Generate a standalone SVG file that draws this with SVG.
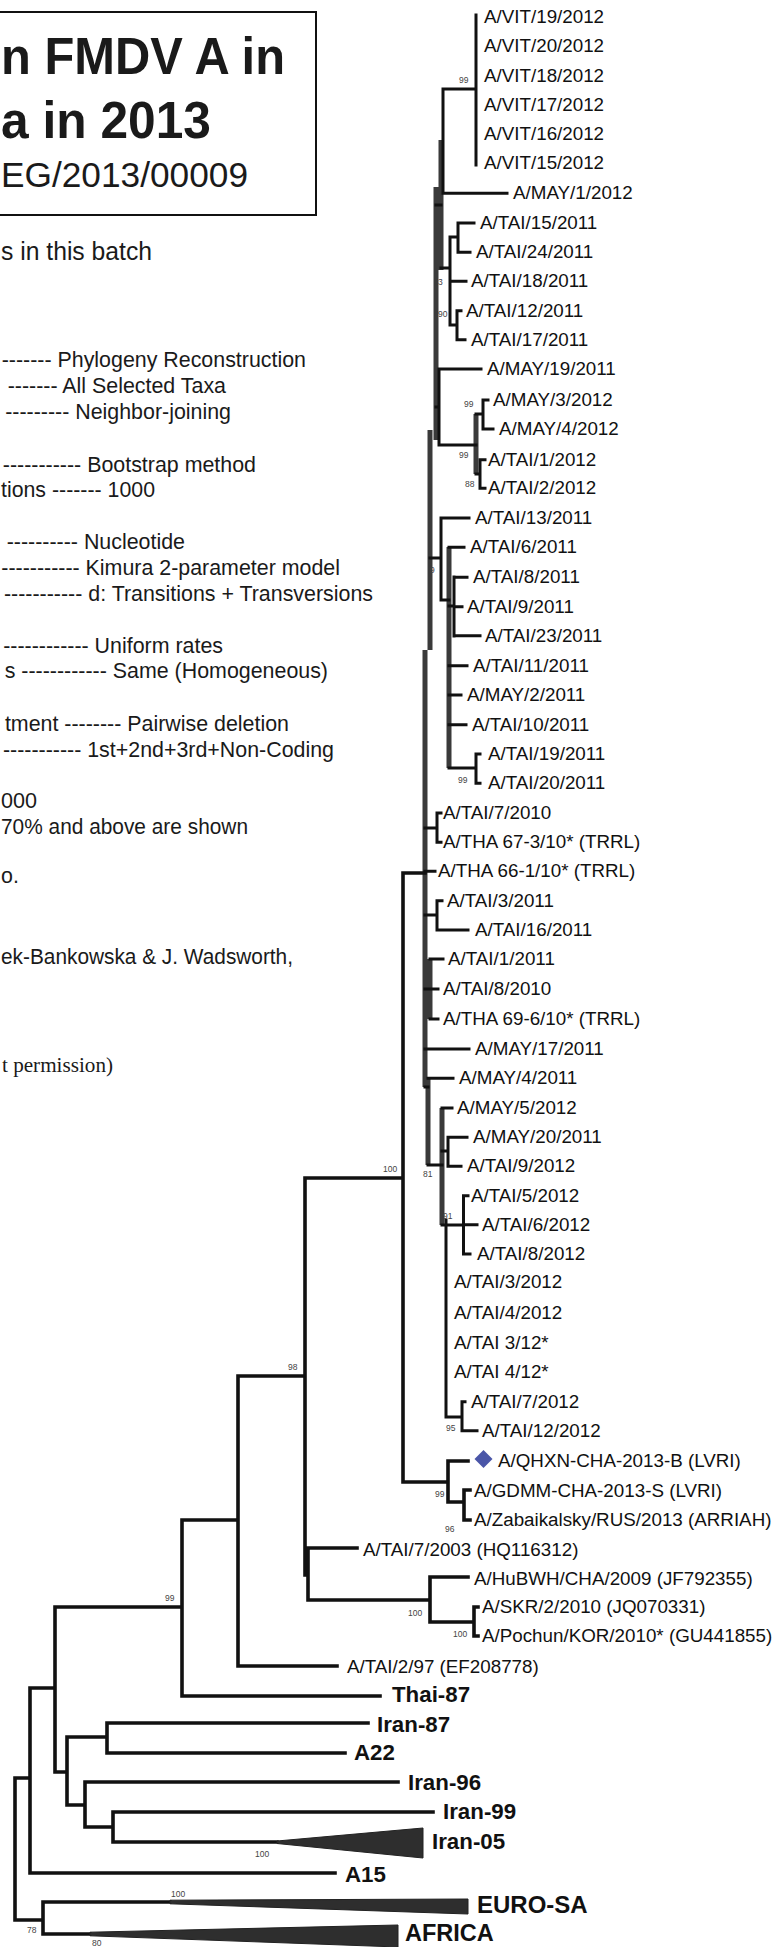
<svg xmlns="http://www.w3.org/2000/svg" width="778" height="1947" viewBox="0 0 778 1947">
<style>
.t{font-family:"Liberation Sans",Arial,sans-serif;fill:#1a1a1a}
.lf{font-family:"Liberation Sans",Arial,sans-serif;font-size:18.8px;fill:#111}
.bd{font-family:"Liberation Sans",Arial,sans-serif;font-weight:bold;fill:#111}
.bs{font-family:"Liberation Sans",Arial,sans-serif;font-size:8.5px;fill:#444}
.p{font-family:"Liberation Sans",Arial,sans-serif;font-size:21.4px;fill:#1a1a1a}
.ln{fill:none;stroke:#111;stroke-width:3;stroke-linecap:square}
.lb{fill:none;stroke:#111;stroke-width:3.6;stroke-linecap:square}
.gb{fill:none;stroke:#3a3a3a;stroke-width:5;stroke-linecap:butt}
.tri{fill:#2e2e2e;stroke:#222;stroke-width:1}
</style>
<rect width="778" height="1947" fill="#fff"/>

<g id="title">
<rect x="-10" y="12" width="326" height="203" fill="none" stroke="#111" stroke-width="2"/>
<text class="t" x="1" y="74" font-size="51.5" font-weight="bold" textLength="284" lengthAdjust="spacingAndGlyphs" fill="#2a2a2a">n FMDV A in</text>
<text class="t" x="1" y="138" font-size="51.5" font-weight="bold" textLength="210" lengthAdjust="spacingAndGlyphs" fill="#2a2a2a">a in 2013</text>
<text class="t" x="1" y="187" font-size="35.4" textLength="247" lengthAdjust="spacingAndGlyphs">EG/2013/00009</text>
</g>

<g id="notes">
<text class="t" x="1" y="260" font-size="25" textLength="151" lengthAdjust="spacingAndGlyphs">s in this batch</text>
<text class="p" x="306" y="367" text-anchor="end">------- Phylogeny Reconstruction</text>
<text class="p" x="226" y="393" text-anchor="end">------- All Selected Taxa</text>
<text class="p" x="231" y="419" text-anchor="end">--------- Neighbor-joining</text>
<text class="p" x="256" y="472" text-anchor="end">----------- Bootstrap method</text>
<text class="p" x="1" y="497" textLength="154" lengthAdjust="spacingAndGlyphs">tions ------- 1000</text>
<text class="p" x="185" y="549" text-anchor="end">---------- Nucleotide</text>
<text class="p" x="340" y="575" text-anchor="end">----------- Kimura 2-parameter model</text>
<text class="p" x="373" y="601" text-anchor="end">----------- d: Transitions + Transversions</text>
<text class="p" x="223" y="653" text-anchor="end">------------ Uniform rates</text>
<text class="p" x="328" y="678" text-anchor="end">s ------------ Same (Homogeneous)</text>
<text class="p" x="289" y="731" text-anchor="end">tment -------- Pairwise deletion</text>
<text class="p" x="334" y="757" text-anchor="end">----------- 1st+2nd+3rd+Non-Coding</text>
<text class="p" x="1" y="808" textLength="36" lengthAdjust="spacingAndGlyphs">000</text>
<text class="p" x="1" y="834" textLength="247" lengthAdjust="spacingAndGlyphs">70% and above are shown</text>
<text class="p" x="1" y="883">o.</text>
<text class="p" x="1" y="964" textLength="292" lengthAdjust="spacingAndGlyphs">ek-Bankowska &amp; J. Wadsworth,</text>
<text x="2" y="1072" font-family="'Liberation Serif','Times New Roman',serif" font-size="21.2" fill="#1a1a1a" textLength="111" lengthAdjust="spacingAndGlyphs">t permission)</text>
</g>

<g id="connectors">
<path class="gb" d="M441 140V270 M436 187V440 M430 430V650 M425 650V1087 M476 414V474 M449 547V768 M430 959V1019 M428 1078V1165 M442 1108V1225"/>
<path class="ln" d="M476 15V165 M443 89H476 M443 89V193 M443 193.3H507
M441 268H450 M450 237V325 M450 237H458 M458 223V252.3 M458 223H474 M458 252.3H470 M450 281.3H466 M450 325H457 M457 310.7V339.7 M457 310.7H461 M457 339.7H465
M436 205H441 M436 407H439 M439 369V445 M439 369H481 M439 445H476
M476 414H483 M483 400V429 M483 400H488 M483 429H493 M476 474H480 M480 459.7V488.3 M480 459.7H485 M480 488.3H485
M430 558H441 M441 518V600 M441 518H469 M441 600H449 M449 547.3H464 M454 577V636 M454 577.3H467 M454 606.7H462 M454 635.7H480 M449 606H454
M449 665.7H467 M449 695H461 M449 724.7H466 M449 768H476 M476 754V783.3 M476 754H480 M476 783.3H480
M425 828H437 M437 813V842.3 M437 813H441 M437 842.3H441 M425 871.3H435
M425 915H437 M437 900.7V930 M437 900.7H442 M437 930H468
M425 989H430 M430 959H443 M430 989H438 M430 1019H438
M425 1049H469 M425 1087H428 M428 1078.3H453 M428 1165H442
M442 1108H452 M442 1151H448 M448 1137.3V1166.3 M448 1137.3H467 M448 1166.3H461
M442 1225H463.5 M463.5 1195.7V1254 M463.5 1195.7H468 M463.5 1224.7H477 M463.5 1254H470
M446 1220V1417 M446 1417H462 M462 1401.7V1430.7 M462 1401.7H465 M462 1430.7H477"/>
<path class="lb" d="M15 1778V1920 M15 1778H30 M15 1920H43
M30 1688V1873 M30 1688H55 M30 1873H335
M55 1607V1772 M55 1607H182 M55 1772H67
M182 1520V1696 M182 1520H238 M182 1696H380
M238 1376V1666 M238 1376H305 M238 1666H337
M305 1178V1575 M305 1178H403 M305 1575H308
M308 1548V1600 M308 1548H357 M308 1600H430
M430 1577V1622 M430 1577H468 M430 1622H474
M474 1607V1636 M474 1607H478 M474 1636H478
M403 873V1482 M403 873H425 M403 1482H448
M448 1461V1502 M448 1461H468 M448 1502H464
M464 1490V1520 M464 1490H470 M464 1520H470
M67 1737V1805 M67 1737H107 M67 1805H85
M107 1723V1753 M107 1723H368 M107 1753H345
M85 1782V1827 M85 1782H398 M85 1827H113
M113 1812V1842 M113 1812H433 M113 1842H277
M43 1902V1934 M43 1902H170 M43 1934H90"/>
<polygon class="tri" points="277,1841 423,1828 423,1858 277,1843.5"/>
<polygon class="tri" points="170,1900.2 468,1899 468,1914 170,1903.8"/>
<polygon class="tri" points="90,1932.2 398,1925 398,1947 90,1935.8"/>
</g>

<g id="bootstrap">
<text class="bs" x="459" y="83">99</text>
<text class="bs" x="438" y="285">3</text>
<text class="bs" x="438" y="317">90</text>
<text class="bs" x="464" y="407">99</text>
<text class="bs" x="459" y="458">99</text>
<text class="bs" x="465" y="487">88</text>
<text class="bs" x="430" y="573">9</text>
<text class="bs" x="458" y="783">99</text>
<text class="bs" x="383" y="1172">100</text>
<text class="bs" x="423" y="1177">81</text>
<text class="bs" x="443" y="1219">91</text>
<text class="bs" x="446" y="1431">95</text>
<text class="bs" x="435" y="1497">99</text>
<text class="bs" x="445" y="1532">96</text>
<text class="bs" x="288" y="1370">98</text>
<text class="bs" x="165" y="1601">99</text>
<text class="bs" x="408" y="1616">100</text>
<text class="bs" x="453" y="1637">100</text>
<text class="bs" x="255" y="1857">100</text>
<text class="bs" x="171" y="1897">100</text>
<text class="bs" x="27" y="1933">78</text>
<text class="bs" x="92" y="1946">80</text>
</g>

<g id="n0"><text class="lf" x="484" y="23.3">A/VIT/19/2012</text></g>
<g id="n1"><text class="lf" x="484" y="52.3">A/VIT/20/2012</text></g>
<g id="n2"><text class="lf" x="484" y="81.7">A/VIT/18/2012</text></g>
<g id="n3"><text class="lf" x="484" y="111">A/VIT/17/2012</text></g>
<g id="n4"><text class="lf" x="484" y="140">A/VIT/16/2012</text></g>
<g id="n5"><text class="lf" x="484" y="169.3">A/VIT/15/2012</text></g>
<g id="n6"><text class="lf" x="513" y="199.3">A/MAY/1/2012</text></g>
<g id="n7"><text class="lf" x="480" y="229">A/TAI/15/2011</text></g>
<g id="n8"><text class="lf" x="476" y="258.3">A/TAI/24/2011</text></g>
<g id="n9"><text class="lf" x="471" y="287.3">A/TAI/18/2011</text></g>
<g id="n10"><text class="lf" x="466" y="316.7">A/TAI/12/2011</text></g>
<g id="n11"><text class="lf" x="471" y="345.7">A/TAI/17/2011</text></g>
<g id="n12"><text class="lf" x="487" y="375">A/MAY/19/2011</text></g>
<g id="n13"><text class="lf" x="493" y="406">A/MAY/3/2012</text></g>
<g id="n14"><text class="lf" x="499" y="435">A/MAY/4/2012</text></g>
<g id="n15"><text class="lf" x="488" y="465.7">A/TAI/1/2012</text></g>
<g id="n16"><text class="lf" x="488" y="494.3">A/TAI/2/2012</text></g>
<g id="n17"><text class="lf" x="475" y="524">A/TAI/13/2011</text></g>
<g id="n18"><text class="lf" x="470" y="553.3">A/TAI/6/2011</text></g>
<g id="n19"><text class="lf" x="473" y="583.3">A/TAI/8/2011</text></g>
<g id="n20"><text class="lf" x="467" y="612.7">A/TAI/9/2011</text></g>
<g id="n21"><text class="lf" x="485" y="641.7">A/TAI/23/2011</text></g>
<g id="n22"><text class="lf" x="473" y="671.7">A/TAI/11/2011</text></g>
<g id="n23"><text class="lf" x="467" y="701">A/MAY/2/2011</text></g>
<g id="n24"><text class="lf" x="472" y="730.7">A/TAI/10/2011</text></g>
<g id="n25"><text class="lf" x="488" y="760">A/TAI/19/2011</text></g>
<g id="n26"><text class="lf" x="488" y="789.3">A/TAI/20/2011</text></g>
<g id="n27"><text class="lf" x="443" y="819">A/TAI/7/2010</text></g>
<g id="n28"><text class="lf" x="443" y="848.3">A/THA 67-3/10* (TRRL)</text></g>
<g id="n29"><text class="lf" x="438" y="877.3">A/THA 66-1/10* (TRRL)</text></g>
<g id="n30"><text class="lf" x="447" y="906.7">A/TAI/3/2011</text></g>
<g id="n31"><text class="lf" x="475" y="936">A/TAI/16/2011</text></g>
<g id="n32"><text class="lf" x="448" y="965">A/TAI/1/2011</text></g>
<g id="n33"><text class="lf" x="443" y="995">A/TAI/8/2010</text></g>
<g id="n34"><text class="lf" x="443" y="1025">A/THA 69-6/10* (TRRL)</text></g>
<g id="n35"><text class="lf" x="475" y="1055">A/MAY/17/2011</text></g>
<g id="n36"><text class="lf" x="459" y="1084.3">A/MAY/4/2011</text></g>
<g id="n37"><text class="lf" x="457" y="1114">A/MAY/5/2012</text></g>
<g id="n38"><text class="lf" x="473" y="1143.3">A/MAY/20/2011</text></g>
<g id="n39"><text class="lf" x="467" y="1172.3">A/TAI/9/2012</text></g>
<g id="n40"><text class="lf" x="471" y="1201.7">A/TAI/5/2012</text></g>
<g id="n41"><text class="lf" x="482" y="1230.7">A/TAI/6/2012</text></g>
<g id="n42"><text class="lf" x="477" y="1260">A/TAI/8/2012</text></g>
<g id="n43"><text class="lf" x="454" y="1288.3">A/TAI/3/2012</text></g>
<g id="n44"><text class="lf" x="454" y="1319.3">A/TAI/4/2012</text></g>
<g id="n45"><text class="lf" x="454" y="1349">A/TAI 3/12*</text></g>
<g id="n46"><text class="lf" x="454" y="1378.3">A/TAI 4/12*</text></g>
<g id="n47"><text class="lf" x="471" y="1407.7">A/TAI/7/2012</text></g>
<g id="n48"><text class="lf" x="482" y="1436.7">A/TAI/12/2012</text></g>
<g id="n49"><polygon points="483.5,1450 492.5,1459 483.5,1468 474.5,1459" fill="#4a56a8"/><text class="lf" x="498" y="1466.7">A/QHXN-CHA-2013-B (LVRI)</text></g>
<g id="n50"><text class="lf" x="474" y="1496.7">A/GDMM-CHA-2013-S (LVRI)</text></g>
<g id="n51"><text class="lf" x="474" y="1526">A/Zabaikalsky/RUS/2013 (ARRIAH)</text></g>
<g id="n52"><text class="lf" x="363" y="1556">A/TAI/7/2003 (HQ116312)</text></g>
<g id="n53"><text class="lf" x="474" y="1585">A/HuBWH/CHA/2009 (JF792355)</text></g>
<g id="n54"><text class="lf" x="482" y="1613.3">A/SKR/2/2010 (JQ070331)</text></g>
<g id="n55"><text class="lf" x="482" y="1641.7">A/Pochun/KOR/2010* (GU441855)</text></g>
<g id="n56"><text class="lf" x="347" y="1672.7">A/TAI/2/97 (EF208778)</text></g>
<g id="n57"><text class="bd" x="392" y="1701.7" font-size="22.3">Thai-87</text></g>
<g id="n58"><text class="bd" x="377" y="1731.7" font-size="22.3">Iran-87</text></g>
<g id="n59"><text class="bd" x="354" y="1760" font-size="22.3">A22</text></g>
<g id="n60"><text class="bd" x="408" y="1790" font-size="22.3">Iran-96</text></g>
<g id="n61"><text class="bd" x="443" y="1819.3" font-size="22.3">Iran-99</text></g>
<g id="n62"><text class="bd" x="432" y="1849.3" font-size="22.3">Iran-05</text></g>
<g id="n63"><text class="bd" x="345" y="1881.7" font-size="22.3">A15</text></g>
<g id="n64"><text class="bd" x="477" y="1913.3" font-size="24">EURO-SA</text></g>
<g id="n65"><text class="bd" x="405" y="1941" font-size="23.5">AFRICA</text></g>
</svg>
